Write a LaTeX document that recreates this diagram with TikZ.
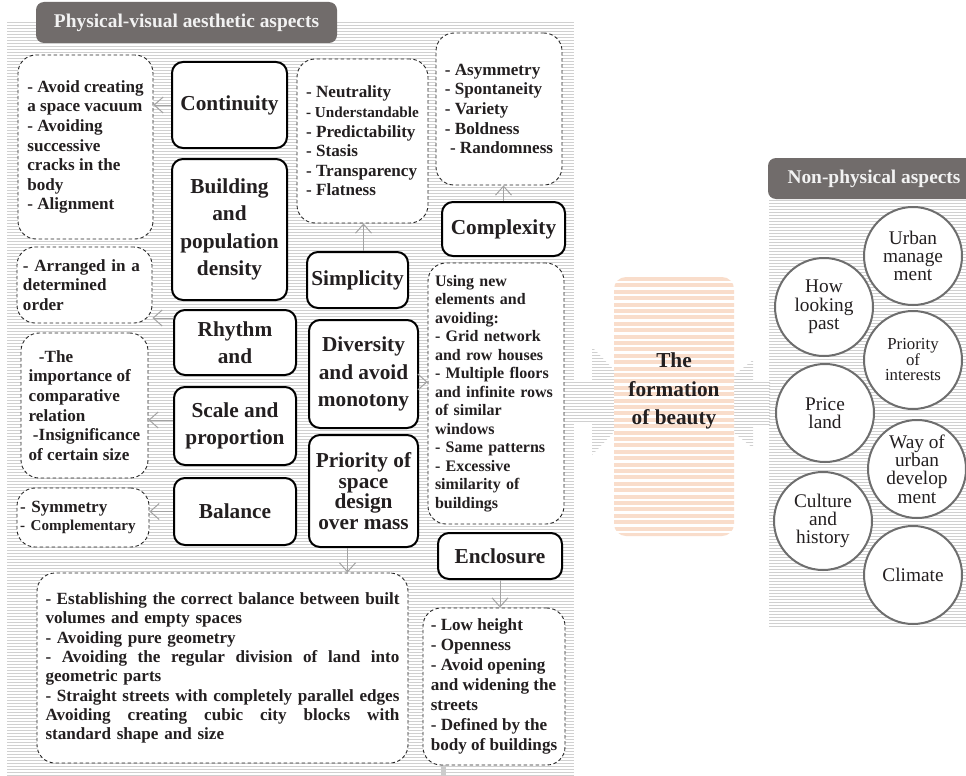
\documentclass[tikz,border=0pt]{standalone}
\usepackage{fontspec}
\setmainfont{Liberation Serif}
\usetikzlibrary{arrows.meta,calc}
\definecolor{txt}{HTML}{231F20}
\definecolor{hdr}{HTML}{716C6B}
\definecolor{stripec}{HTML}{D0D0D0}
\definecolor{pinkc}{HTML}{F9DDCB}
\definecolor{circc}{HTML}{6E6E6E}
\definecolor{arrc}{HTML}{A3A3A3}
\newcommand{\jline}[1]{\leavevmode\hbox to 354pt{#1}}
\begin{document}
\begin{tikzpicture}[x=1pt,y=-1pt,
  stripe/.style={draw=stripec, line width=1.2pt},
  pinkstripe/.style={draw=pinkc, line width=4pt},
  bigbox/.style={draw=black, line width=2pt, rounded corners=11pt, fill=white, align=center, text=txt, inner sep=0pt, font=\bfseries\fontsize{21.3}{27.5}\selectfont},
  dbox/.style={draw=black!85, dash pattern=on 3.5pt off 2.5pt, line width=0.9pt, rounded corners=18pt, fill=white, align=left, text=txt, inner xsep=6pt, inner ysep=0pt, font=\bfseries\fontsize{17.1}{19.6}\selectfont},
  header/.style={fill=hdr, rounded corners=8pt, text=white!95!black, inner sep=0pt, font=\bfseries\fontsize{19.4}{22}\selectfont},
  circ/.style={circle, draw=circc, line width=2pt, fill=white, minimum size=98pt, inner sep=0pt, align=center, text=txt, font=\fontsize{19.3}{18.3}\selectfont},
  arr/.style={draw=arrc, line width=1pt, -{Straight Barb[length=9pt,width=16pt]}}]
\clip (0,0) rectangle (966,776);
\fill[white] (0,0) rectangle (966,776);
% panel stripes
\foreach \yy in {22.5,25.5,...,776} \draw[stripe] (7,\yy) -- (574,\yy);
\foreach \yy in {200.5,203.5,...,627} \draw[stripe] (769,\yy) -- (966,\yy);
% big arrows
\begin{scope}
\clip (573,382) -- (592,382) -- (592,347) -- (644,401) -- (592,455) -- (592,423) -- (573,423) -- cycle;
\foreach \yy in {346.5,349.5,...,457} \draw[stripe] (570,\yy) -- (650,\yy);
\end{scope}
\begin{scope}
\clip (770,382) -- (753,382) -- (753,360) -- (698,404) -- (753,448) -- (753,425) -- (770,425) -- cycle;
\foreach \yy in {358.5,361.5,...,450} \draw[stripe] (695,\yy) -- (772,\yy);
\end{scope}
\fill[black!20] (441,757) rectangle (446,776);
% center box
\fill[white, rounded corners=12pt] (614,277) rectangle (734,536);
\begin{scope}
\clip[rounded corners=12pt] (614,277) rectangle (734,536);
\foreach \yy in {279,285.4,...,537} \draw[pinkstripe] (612,\yy) -- (736,\yy);
\end{scope}
\node[font=\bfseries\fontsize{21.3}{28.5}\selectfont, align=center, text=txt] (beauty) at (674,391) {The\\formation\\of beauty};
% headers
\node[header, minimum width=301pt, minimum height=41pt] (h1) at (186.5,22.5) {Physical-visual aesthetic aspects};
\node[header, minimum width=212pt, minimum height=41pt] (h2) at (874,178.5) {Non-physical aspects};
% dashed boxes
\node[dbox, minimum width=135pt, minimum height=184pt] (d1) at (85.5,147) {- Avoid creating\\a space vacuum\\- Avoiding\\successive\\cracks in the\\body\\- Alignment};
\node[dbox, minimum width=135pt, minimum height=76pt, text width=123pt] (d2) at (84.5,285) {- Arranged in a\\determined\\order};
\node[dbox, minimum width=127pt, minimum height=145pt] (d3) at (84.5,405.5) {\hspace*{0.6em}-The\\importance of\\comparative\\relation\\\hspace*{0.25em}-Insignificance\\of certain size};
\node[dbox, minimum width=132pt, minimum height=59pt, text width=126pt, inner xsep=3pt, font=\bfseries\fontsize{17.1}{18}\selectfont] (d4) at (83,517.5) {- Symmetry\\{\fontsize{15.1}{18}\selectfont - Complementary}};
\node[dbox, minimum width=131pt, minimum height=164pt] (d5) at (362.5,141) {- Neutrality\\{\fontsize{15.2}{19.6}\selectfont - Understandable}\\- Predictability\\- Stasis\\- Transparency\\- Flatness};
\node[dbox, minimum width=126pt, minimum height=152pt] (d6) at (499,109) {- Asymmetry\\- Spontaneity\\- Variety\\- Boldness\\\hspace*{0.3em}- Randomness};
\node[dbox, minimum width=136pt, minimum height=261pt, text width=122pt, inner xsep=7pt, font=\bfseries\fontsize{16}{18.5}\selectfont] (d7) at (496,393.5) {Using new\\elements and\\avoiding:\\- Grid network\\and row houses\\- Multiple floors\\and infinite rows\\of similar\\windows\\- Same patterns\\- Excessive\\similarity of\\buildings};
\node[dbox, minimum width=371pt, minimum height=190pt, text width=354pt, inner xsep=8.5pt, font=\bfseries\fontsize{17.1}{19.3}\selectfont] (d8) at (222.5,668) {\jline{-\hfill Establishing\hfill the\hfill correct\hfill balance\hfill between\hfill built}\\volumes and empty spaces\\- Avoiding pure geometry\\\jline{-\hfill Avoiding\hfill the\hfill regular\hfill division\hfill of\hfill land\hfill into}\\geometric parts\\- Straight streets with completely parallel edges\\\jline{Avoiding\hfill creating\hfill cubic\hfill city\hfill blocks\hfill with}\\standard shape and size};
\node[dbox, minimum width=142pt, minimum height=157pt, font=\bfseries\fontsize{17.1}{20}\selectfont] (d9) at (494,686.5) {- Low height\\- Openness\\- Avoid opening\\and widening the\\streets\\- Defined by the\\body of buildings};
% solid boxes
\node[bigbox, minimum width=115pt, minimum height=86pt] (cont) at (229.5,105) {Continuity};
\node[bigbox, minimum width=115pt, minimum height=141pt] (build) at (229.5,229.5) {Building\\and\\population\\density};
\node[bigbox, minimum width=122pt, minimum height=65pt] (rhythm) at (235,342.5) {Rhythm\\and};
\node[bigbox, minimum width=122pt, minimum height=78pt] (scale) at (235,426) {Scale and\\proportion};
\node[bigbox, minimum width=122pt, minimum height=67pt] (balance) at (235,511.5) {Balance};
\node[bigbox, minimum width=101pt, minimum height=56pt] (simp) at (357.5,280) {Simplicity};
\node[bigbox, minimum width=109pt, minimum height=108pt] (div) at (363.5,374) {Diversity\\and avoid\\monotony};
\node[bigbox, minimum width=109pt, minimum height=112pt, font=\bfseries\fontsize{21.3}{20.5}\selectfont] (prio) at (363.5,491) {Priority of\\space\\design\\over mass};
\node[bigbox, minimum width=123pt, minimum height=54pt] (comp) at (503.5,229) {Complexity};
\node[bigbox, minimum width=124pt, minimum height=46pt] (encl) at (500,556) {Enclosure};
% arrows
\draw[arr] (cont.west) -- (cont.west -| d1.east);
\draw[arr] ([yshift=-9pt]rhythm.north west) -- ([yshift=-9pt]rhythm.north west -| d2.east);
\draw[arr] ([yshift=6pt]scale.west) -- ([yshift=6pt]scale.west -| d3.east);
\draw[arr] (balance.west) -- (balance.west -| d4.east);
\draw[arr] ([xshift=6pt]simp.north) -- ([xshift=6pt]simp.north |- d5.south);
\draw[arr] (comp.north) -- (comp.north |- d6.south);
\draw[arr] ([yshift=-8pt]div.east) -- ([yshift=-8pt]div.east -| d7.west);
\draw[arr] ([xshift=-16pt]prio.south) -- ([xshift=-16pt]prio.south |- d8.north);
\draw[arr] (encl.south) -- (encl.south |- d9.north);
% circles
\node[circ] (c1) at (913,256) {Urban\\manage\\ment};
\node[circ] (c2) at (824,307) {How\\looking\\past};
\node[circ, font=\fontsize{16.8}{15.5}\selectfont] (c3) at (913,360) {Priority\\of\\interests};
\node[circ] (c4) at (825,413) {Price\\land};
\node[circ] (c5) at (917,469) {Way of\\urban\\develop\\ment};
\node[circ] (c6) at (823,521) {Culture\\and\\history};
\node[circ] (c7) at (913,575) {Climate};
\end{tikzpicture}
\end{document}
